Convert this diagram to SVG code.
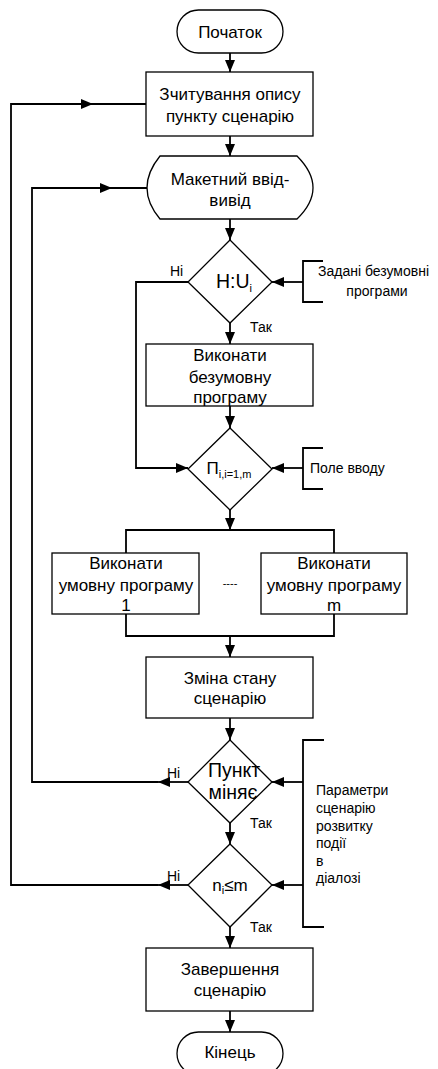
<svg xmlns="http://www.w3.org/2000/svg" width="438" height="1069" viewBox="0 0 438 1069">
<style>
.box{fill:#fff;stroke:#000;stroke-width:1.3}
.ln{fill:none;stroke:#000;stroke-width:1.8}
.t{font-family:"Liberation Sans",Arial,sans-serif;font-size:17px;fill:#000;text-anchor:middle}
.d{font-size:19.5px}
.s{font-family:"Liberation Sans",Arial,sans-serif;font-size:14px;fill:#000}
.sub{font-size:11px}
</style>
<defs>
<marker id="ah" markerUnits="userSpaceOnUse" markerWidth="12" markerHeight="10" refX="12" refY="5" orient="auto">
<path d="M0,0 L12,5 L0,10 Z" fill="#000"/>
</marker>
</defs>
<rect width="438" height="1069" fill="#fff"/>
<g id="connectors">
<line class="ln" x1="230" y1="53" x2="230" y2="72" marker-end="url(#ah)"/>
<line class="ln" x1="230" y1="136" x2="230" y2="156" marker-end="url(#ah)"/>
<line class="ln" x1="230" y1="219" x2="230" y2="240" marker-end="url(#ah)"/>
<line class="ln" x1="230" y1="323" x2="230" y2="344" marker-end="url(#ah)"/>
<line class="ln" x1="230" y1="406" x2="230" y2="428" marker-end="url(#ah)"/>
<line class="ln" x1="230" y1="510" x2="230" y2="530" marker-end="url(#ah)"/>
<polyline class="ln" points="188,282 136,282 136,468 188,468" marker-end="url(#ah)"/>
<path class="ln" d="M323,261 H303 V302 H323"/>
<line class="ln" x1="303" y1="282" x2="272" y2="282" marker-end="url(#ah)"/>
<path class="ln" d="M323,448 H303 V489 H323"/>
<line class="ln" x1="303" y1="468" x2="272" y2="468" marker-end="url(#ah)"/>
<path class="ln" d="M126,553 V530 H334 V553"/>
<path class="ln" d="M126,614 V636 H334 V614"/>
<line class="ln" x1="230" y1="636" x2="230" y2="657" marker-end="url(#ah)"/>
<line class="ln" x1="230" y1="718" x2="230" y2="740" marker-end="url(#ah)"/>
<line class="ln" x1="188" y1="782" x2="158" y2="782" marker-end="url(#ah)"/>
<polyline class="ln" points="158,782 32,782 32,188 112,188" marker-end="url(#ah)"/>
<line class="ln" x1="112" y1="188" x2="147" y2="188"/>
<line class="ln" x1="230" y1="823" x2="230" y2="844" marker-end="url(#ah)"/>
<path class="ln" d="M324,740 H303 V927 H324"/>
<line class="ln" x1="303" y1="782" x2="272" y2="782" marker-end="url(#ah)"/>
<line class="ln" x1="303" y1="885" x2="272" y2="885" marker-end="url(#ah)"/>
<line class="ln" x1="188" y1="885" x2="158" y2="885" marker-end="url(#ah)"/>
<polyline class="ln" points="158,885 11,885 11,104 93,104" marker-end="url(#ah)"/>
<line class="ln" x1="93" y1="104" x2="146" y2="104"/>
<line class="ln" x1="230" y1="927" x2="230" y2="948" marker-end="url(#ah)"/>
<line class="ln" x1="230" y1="1011" x2="230" y2="1032" marker-end="url(#ah)"/>
</g>
<g id="start">
<rect class="box" x="177" y="10" width="106" height="43" rx="21.5"/>
<text class="t" x="230" y="38">Початок</text>
</g>
<g id="read">
<rect class="box" x="146" y="72" width="167" height="64"/>
<text class="t" x="230" y="100">Зчитування опису</text>
<text class="t" x="230" y="122">пункту сценарію</text>
</g>
<g id="io">
<path class="box" d="M160,156 L297,156 Q329,188 297,219 L160,219 Q134,188 160,156 Z"/>
<text class="t" x="230" y="185">Макетний ввід-</text>
<text class="t" x="230" y="206">вивід</text>
</g>
<g id="d1">
<polygon class="box" points="230,240 272,282 230,323 188,282"/>
<text class="t d" x="234" y="288">H:U<tspan class="sub" dy="4">i</tspan></text>
</g>
<g id="bracket1-label">
<text class="s" x="318" y="276">Задані безумовні</text>
<text class="s" x="377" y="296" text-anchor="middle">програми</text>
</g>
<g id="labels">
<text class="s" x="170" y="276">Ні</text>
<text class="s" x="250" y="332">Так</text>
<text class="s" x="167" y="778">Ні</text>
<text class="s" x="250" y="828">Так</text>
<text class="s" x="167" y="881">Ні</text>
<text class="s" x="250" y="932">Так</text>
</g>
<g id="exec-uncond">
<rect class="box" x="146" y="344" width="167" height="62"/>
<text class="t" x="230" y="361">Виконати</text>
<text class="t" x="230" y="383">безумовну</text>
<text class="t" x="230" y="403">програму</text>
</g>
<g id="d2">
<polygon class="box" points="230,428 272,469 230,510 188,469"/>
<text class="t" x="229" y="474">П<tspan class="sub" dy="4">i,i=1,m</tspan></text>
</g>
<g id="field-label">
<text class="s" x="310" y="473">Поле вводу</text>
</g>
<g id="exec1">
<rect class="box" x="52" y="553" width="147" height="61"/>
<text class="t" x="126" y="569">Виконати</text>
<text class="t" x="126" y="591">умовну програму</text>
<text class="t" x="126" y="611">1</text>
</g>
<g id="dots">
<text class="t" x="230" y="587" style="font-size:11px">----</text>
</g>
<g id="execm">
<rect class="box" x="261" y="553" width="146" height="61"/>
<text class="t" x="334" y="569">Виконати</text>
<text class="t" x="334" y="591">умовну програму</text>
<text class="t" x="334" y="611">m</text>
</g>
<g id="change">
<rect class="box" x="146" y="657" width="167" height="61"/>
<text class="t" x="230" y="684">Зміна стану</text>
<text class="t" x="230" y="704">сценарію</text>
</g>
<g id="d3">
<polygon class="box" points="230,740 272,782 230,823 188,782"/>
<text class="t d" x="234" y="777">Пункт</text>
<text class="t d" x="233" y="799">міняє</text>
</g>
<g id="params-label">
<text class="s" x="316" y="795">Параметри</text>
<text class="s" x="316" y="813">сценарію</text>
<text class="s" x="316" y="831">розвитку</text>
<text class="s" x="316" y="848">події</text>
<text class="s" x="316" y="866">в</text>
<text class="s" x="316" y="883">діалозі</text>
</g>
<g id="d4">
<polygon class="box" points="230,844 272,885 230,927 188,885"/>
<text class="t" x="230" y="891">n<tspan class="sub" dy="3">i</tspan><tspan dy="-3">≤m</tspan></text>
</g>
<g id="finish">
<rect class="box" x="146" y="948" width="167" height="63"/>
<text class="t" x="230" y="975">Завершення</text>
<text class="t" x="230" y="996">сценарію</text>
</g>
<g id="end">
<rect class="box" x="177" y="1032" width="106" height="43" rx="21.5"/>
<text class="t" x="230" y="1058">Кінець</text>
</g>
</svg>
